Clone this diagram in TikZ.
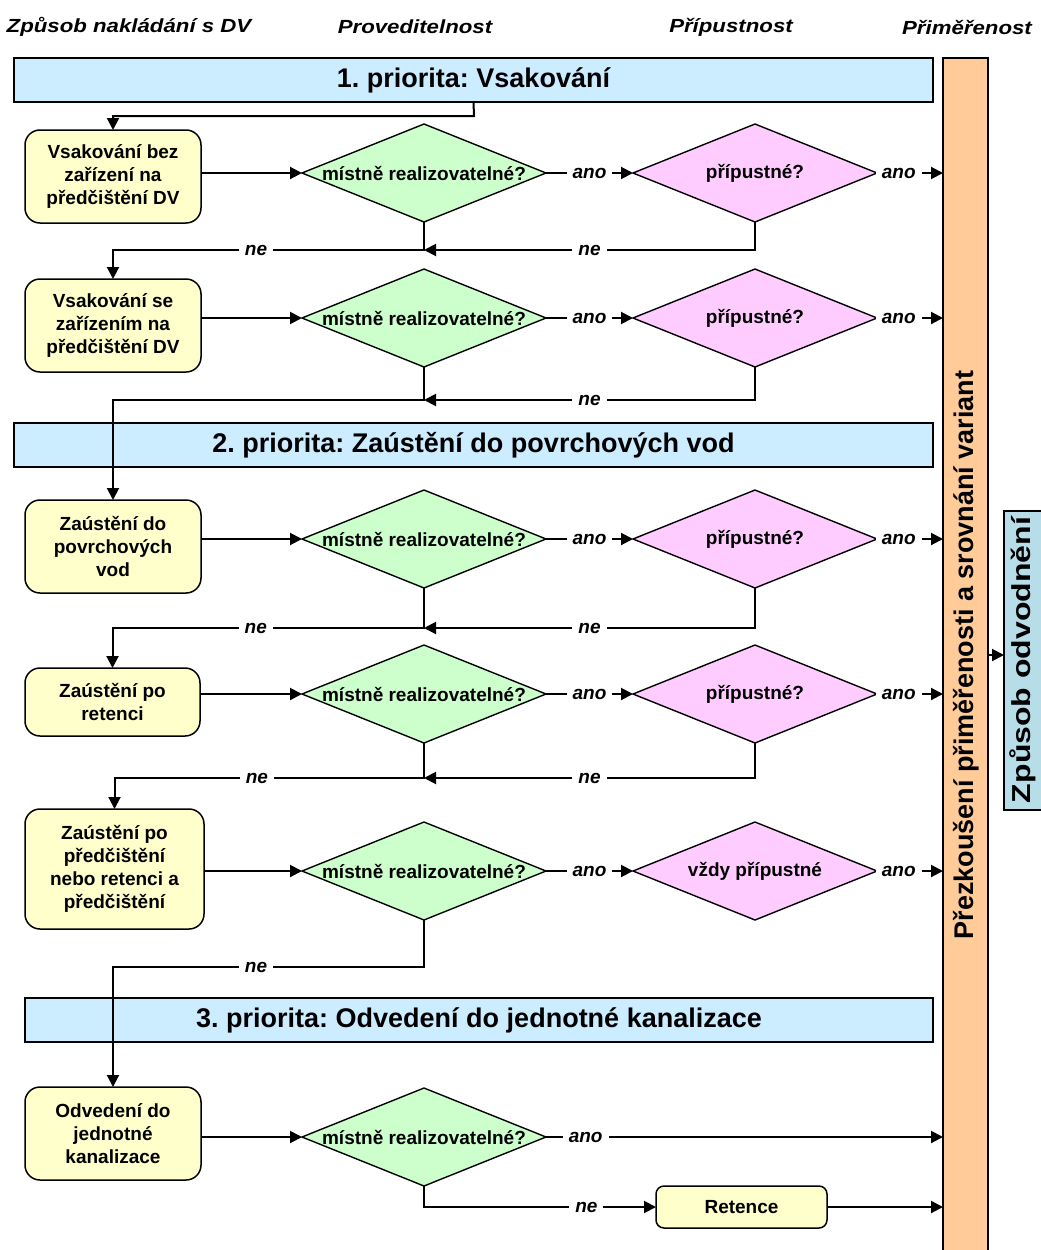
\documentclass[tikz,border=0pt]{standalone}
\usepackage{fontspec}
\usepackage{graphicx}
\setmainfont{Liberation Sans}
\usetikzlibrary{shapes.geometric,arrows.meta}
\definecolor{barblue}{HTML}{CCECFF}
\definecolor{checkorange}{HTML}{FFCC99}
\definecolor{resultteal}{HTML}{B7DEE8}
\definecolor{boxyellow}{HTML}{FFFFCC}
\definecolor{testgreen}{HTML}{CCFFCC}
\definecolor{testpink}{HTML}{FFCCFF}
\frenchspacing
\begin{document}
\begin{tikzpicture}[x=1pt,y=-1pt,
  font=\fontsize{19}{23}\selectfont\bfseries,
  conn/.style={line width=2pt,-{Triangle[length=12pt,width=12pt]}},
  lab/.style={fill=white,font=\fontsize{19}{23}\selectfont\bfseries\itshape,inner xsep=6pt,inner ysep=2pt},
  head/.style={font=\fontsize{19}{23}\selectfont\bfseries\itshape},
  way/.style={draw,line width=1.5pt,rounded corners=15pt,fill=boxyellow,align=center,inner sep=0pt,outer sep=0pt},
  prio/.style={draw,line width=1.5pt,fill=barblue,minimum height=44pt,inner sep=0pt,outer sep=0pt,font=\fontsize{27}{30}\selectfont\bfseries},
  dia/.style={draw,diamond,line width=1.4pt,minimum width=244pt,minimum height=98pt,inner sep=0pt,outer sep=0pt}]
\useasboundingbox (0,0) rectangle (1041,1250);
\clip (0,0) rectangle (1041,1250);
% column heads
\node[head] (hway) at (129,27) {\scalebox{1.17}[1]{Způsob nakládání s DV}};
\node[head] (hfeas) at (415,27) {\scalebox{1.17}[1]{Proveditelnost}};
\node[head] (hperm) at (731,27) {\scalebox{1.17}[1]{Přípustnost}};
\node[head] (hadeq) at (967,27) {\scalebox{1.17}[1]{Přiměřenost}};
% priorities
\node[prio,minimum width=919pt] (prio1) at (473.5,80) {1. priorita: Vsakování};
\node[prio,minimum width=919pt] (prio2) at (473.5,445) {2. priorita: Zaústění do povrchových vod};
\node[prio,minimum width=908pt] (prio3) at (479,1020) {3. priorita: Odvedení do jednotné kanalizace};
\node[draw,line width=1.5pt,fill=checkorange,minimum width=45pt,minimum height=1194pt,inner sep=0pt,outer sep=0pt] (chk) at (965.5,655) {};
\node[rotate=90,font=\fontsize{27}{30}\selectfont\bfseries] (chkt) at (966,655) {Přezkoušení přiměřenosti a srovnání variant};
\node[draw,line width=1.5pt,fill=resultteal,minimum width=46pt,minimum height=299pt,inner sep=0pt,outer sep=0pt] (res) at (1027,660.5) {};
\node[rotate=90,font=\fontsize{26}{30}\selectfont\bfseries] (rest) at (1023,660) {\scalebox{1.23}[1]{Způsob odvodnění}};
% ways of handling
\node[way,minimum width=176pt,minimum height=93pt] (w1) at (113,176.5) {Vsakování bez\\zařízení na\\předčištění DV};
\node[way,minimum width=176pt,minimum height=93pt] (w2) at (113,325.5) {Vsakování se\\zařízením na\\předčištění DV};
\node[way,minimum width=176pt,minimum height=93pt] (w3) at (113,546.5) {Zaústění do\\povrchových\\vod};
\node[way,minimum width=175pt,minimum height=68pt] (w4) at (112.5,702) {Zaústění po\\retenci};
\node[way,minimum width=179pt,minimum height=120pt] (w5) at (114.5,869) {Zaústění po\\předčištění\\nebo retenci a\\předčištění};
\node[way,minimum width=176pt,minimum height=93pt] (w6) at (113,1133.5) {Odvedení do\\jednotné\\kanalizace};
\node[way,minimum width=171pt,minimum height=42pt,rounded corners=8pt] (ret) at (741.5,1207) {Retence};
% tests
\foreach \i/\y/\txt in {1/173/přípustné?,2/318/přípustné?,3/539/přípustné?,4/694/přípustné?,5/871/vždy přípustné} {
  \node[dia,fill=testgreen] (g\i) at (424,\y) {};
  \node (gt\i) at (g\i) {místně realizovatelné?};
  \node[dia,fill=testpink] (p\i) at (755,\y) {};
  \node (pt\i) at (p\i) {\txt};
  \draw[conn] (g\i.east) -- node[lab]{ano} (p\i.west);
  \draw[conn] (p\i.east) -- node[lab,pos=.33]{ano} (p\i.east -| chk.west);
}
\node[dia,fill=testgreen] (g6) at (424,1137) {};
\node (gt6) at (g6) {místně realizovatelné?};
\foreach \i in {1,...,6}
  \draw[conn] (g\i.west -| w\i.east) -- (g\i.west);
% ne
\coordinate (t1) at (474,116);
\draw[conn] (prio1.south) -- (t1) -| (w1.north);
\foreach \i/\y in {1/250,2/400,3/628,4/778} {
  \coordinate (m\i) at (424,\y);
  \draw[conn] (p\i.south) |- node[lab,pos=.75]{ne} (m\i);
}
\coordinate (m5) at (424,967);
\draw[conn] (g1.south) -- (m1) -| node[lab,pos=.27]{ne} (w2.north);
\draw[conn] (g2.south) -- (m2) -| (w3.north);
\draw[conn] (g3.south) -- (m3) -| node[lab,pos=.27]{ne} (w4.north);
\draw[conn] (g4.south) -- (m4) -| node[lab,pos=.27]{ne} (w5.north);
\draw[conn] (g5.south) -- (m5) -| node[lab,pos=.27]{ne} (w6.north);
\draw[conn] (g6.east) -- node[lab,pos=.1]{ano} (g6.east -| chk.west);
\draw[conn] (g6.south) |- node[lab,pos=.85]{ne} (ret.west);
\draw[conn] (ret.east) -- (ret.east -| chk.west);
\draw[conn] (chk.east) -- (chk.east -| res.west);
\end{tikzpicture}
\end{document}
